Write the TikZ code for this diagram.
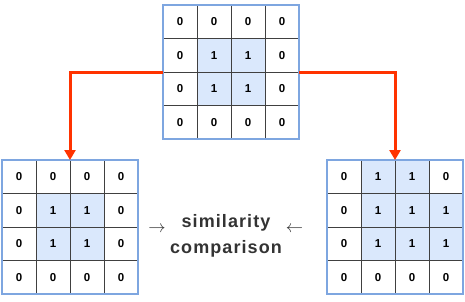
\documentclass[tikz,border=0pt]{standalone}
\usepackage{fontspec}
\setmainfont{Liberation Sans}
\newfontfamily\cmpfont[LetterSpace=6]{Liberation Sans}
\usetikzlibrary{arrows.meta,positioning}
\definecolor{cellblue}{HTML}{DAE8FC}
\definecolor{gridedge}{HTML}{7EA6E0}
\definecolor{linkred}{HTML}{FF3300}
\definecolor{textgray}{HTML}{333333}

\begin{document}
\begin{tikzpicture}[x=1pt,y=1pt,
 every node/.style={align=center},
 gridbox/.style={minimum width=136pt,minimum height=134pt,inner sep=0pt,outer sep=0pt},
 cell/.style={draw=black!75,line width=0.7pt,minimum width=34pt,minimum height=33.5pt,
   inner sep=0pt,outer sep=0pt,anchor=north west,font=\bfseries\fontsize{11.5}{13}\selectfont},
 c0/.style={fill=white}, c1/.style={fill=cellblue},
 edge/.style={draw=gridedge,line width=1.2pt},
 link/.style={draw=linkred,line width=3pt,-{Triangle[width=11pt,length=10pt]}},
 glyph/.style={text=textgray,font=\fontsize{16}{16}\selectfont}]
    \useasboundingbox (0,0) rectangle (465,-301);
    \node[gridbox] (top) at (231,-72) {};
    \node[gridbox] (left) at (70,-227) {};
    \node[gridbox] (right) at (395,-227) {};
    % cells of the three grids
    \foreach \v [count=\i from 0] in {0,0,0,0, 0,1,1,0, 0,1,1,0, 0,0,0,0}{
      \pgfmathtruncatemacro\cc{mod(\i,4)}
      \pgfmathtruncatemacro\rr{\i/4}
      \node[cell,c\v] (top-\i) at ([xshift=\cc*34pt,yshift=-\rr*33.5pt]top.north west) {\v};
    }
    \foreach \v [count=\i from 0] in {0,0,0,0, 0,1,1,0, 0,1,1,0, 0,0,0,0}{
      \pgfmathtruncatemacro\cc{mod(\i,4)}
      \pgfmathtruncatemacro\rr{\i/4}
      \node[cell,c\v] (left-\i) at ([xshift=\cc*34pt,yshift=-\rr*33.5pt]left.north west) {\v};
    }
    \foreach \v [count=\i from 0] in {0,1,1,0, 0,1,1,1, 0,1,1,1, 0,0,0,0}{
      \pgfmathtruncatemacro\cc{mod(\i,4)}
      \pgfmathtruncatemacro\rr{\i/4}
      \node[cell,c\v] (right-\i) at ([xshift=\cc*34pt,yshift=-\rr*33.5pt]right.north west) {\v};
    }
    \draw[edge] (top.south west) rectangle (top.north east);
    \draw[edge] (left.south west) rectangle (left.north east);
    \draw[edge] (right.south west) rectangle (right.north east);
    % links
    \draw[link] (top.west) -| (left.north);
    \draw[link] (top.east) -| (right.north);
    \node[text=textgray,font=\cmpfont\bfseries\fontsize{18}{26}\selectfont] (cmp) at (226,-235.5)
      {similarity\\comparison};
    \node[glyph] (toarr) at (157,-229) {$\rightarrow$};
    \node[glyph] (fromarr) at (294.5,-229) {$\leftarrow$};
\end{tikzpicture}
\end{document}
